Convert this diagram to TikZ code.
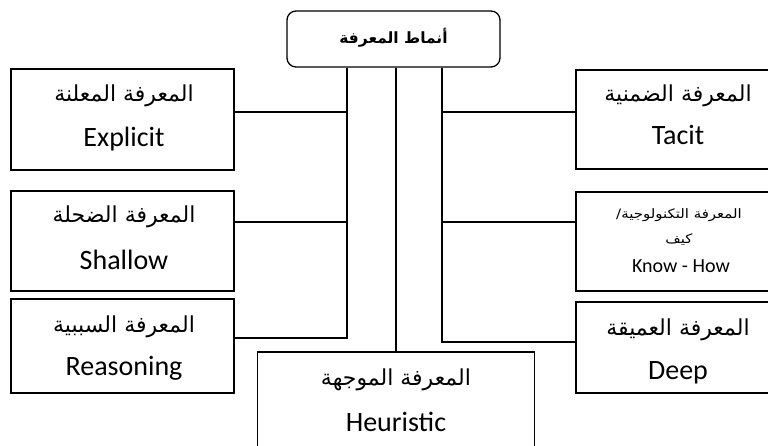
\documentclass[tikz,border=0pt]{standalone}
\usepackage{fontspec}
\setmainfont{Carlito}
\newfontfamily\arabicfont[Script=Arabic, FakeStretch=1.15]{DejaVu Sans}
\newfontfamily\arabicplain[Script=Arabic]{DejaVu Sans}
\TeXXeTstate=1
\begin{document}
\begin{tikzpicture}[x=1pt,y=-1pt,
  box/.style={draw=black, line width=1.3pt, fill=white, inner sep=0pt},
  link/.style={draw=black, line width=1.3pt},
  ar/.style={inner sep=0pt, font=\arabicplain\fontsize{22}{26}\selectfont},
  arsmall/.style={inner sep=0pt, font=\arabicfont\fontsize{13}{15}\selectfont},
  en/.style={inner sep=0pt, font=\fontsize{28}{30}\selectfont},
  ensmall/.style={inner sep=0pt, font=\fontsize{20}{22}\selectfont}]
\useasboundingbox (0,0) rectangle (768,446);
\begin{scope}
\clip (0,0) rectangle (768,446);

% junction points of the two trunks
\coordinate (lj) at (347,338);
\coordinate (rj) at (442,342);
\coordinate (ly1) at (0,112);
\coordinate (ly2) at (0,222);
\coordinate (ry1) at (0,112);
\coordinate (ry2) at (0,222);

% title
\node[box, rounded corners=9pt, minimum width=213pt, minimum height=56pt] (top) at (393.5,39) {};
\node[inner sep=0pt, font=\arabicplain\bfseries\fontsize{15.5}{18}\selectfont] (toptxt) at (393.5,38) {\beginR أنماط المعرفة\endR};

% left column
\node[box, minimum width=223pt, minimum height=101pt] (explicit) at (122.5,119.5) {};
\node[box, minimum width=223pt, minimum height=100pt] (shallow) at (122.5,241) {};
\node[box, minimum width=223pt, minimum height=94pt] (reasoning) at (122.5,346) {};

% right column (runs off the right edge)
\node[box, minimum width=212pt, minimum height=99pt] (tacit) at (682,119.5) {};
\node[box, minimum width=212pt, minimum height=99pt] (knowhow) at (682,241.5) {};
\node[box, minimum width=212pt, minimum height=91pt] (deep) at (682,347.5) {};

% bottom centre
\node[box, minimum width=277pt, minimum height=100pt] (heuristic) at (396,402) {};

% connectors
\draw[link] (top.south -| lj) -- (lj) -- (reasoning.east |- lj);
\draw[link] (explicit.east |- ly1) -- (ly1 -| lj);
\draw[link] (shallow.east |- ly2) -- (ly2 -| lj);
\draw[link] (top.south -| rj) -- (rj) -- (deep.west |- rj);
\draw[link] (tacit.west |- ry1) -- (ry1 -| rj);
\draw[link] (knowhow.west |- ry2) -- (ry2 -| rj);
\draw[link] (top.south -| heuristic.north) -- (heuristic.north);

% labels
\node[ar] (explicitar) at (124,96) {\beginR المعرفة المعلنة\endR};
\node[en] (explicitEn) at (124,139) {Explicit};
\node[ar] (shallowar) at (124,217) {\beginR المعرفة الضحلة\endR};
\node[en] (shallowEn) at (124,260) {Shallow};
\node[ar] (reasoningar) at (124,327) {\beginR المعرفة السببية\endR};
\node[en] (reasoningEn) at (124,368) {Reasoning};
\node[ar] (heuristicar) at (396,380) {\beginR المعرفة الموجهة\endR};
\node[en] (heuristicEn) at (396,422) {Heuristic};
\node[ar] (tacitar) at (678,96) {\beginR المعرفة الضمنية\endR};
\node[en] (tacitEn) at (678,135) {Tacit};
\node[arsmall] (knowhowar) at (679,215) {\beginR المعرفة التكنولوجية/\endR};
\node[arsmall] (kayf) at (679,240) {\beginR كيف\endR};
\node[ensmall] (knowhowEn) at (681,266) {Know - How};
\node[ar] (deepar) at (678,330) {\beginR المعرفة العميقة\endR};
\node[en] (deepEn) at (678,373) {Deep};
\end{scope}
\end{tikzpicture}
\end{document}
